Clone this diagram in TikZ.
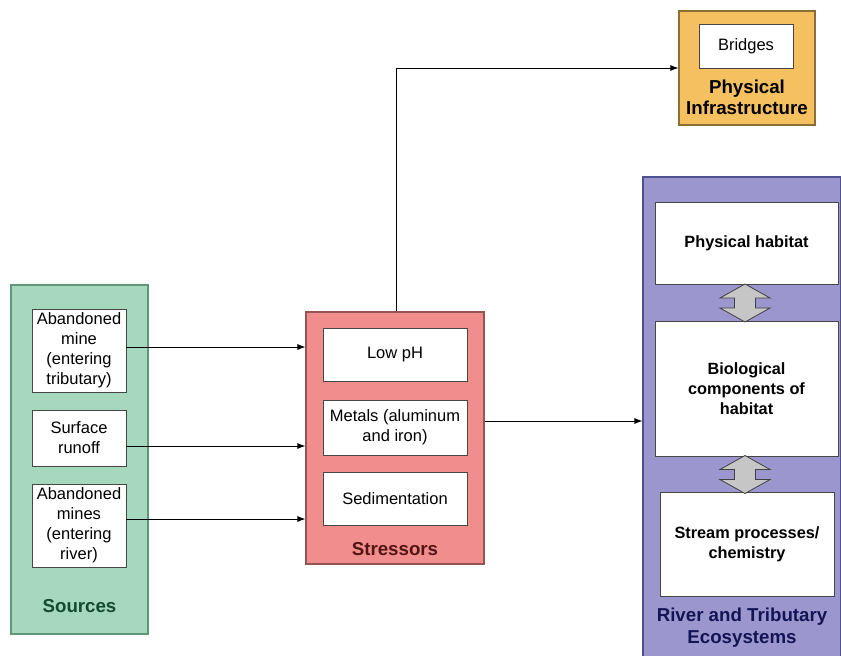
\documentclass[tikz,border=0pt]{standalone}
\usepackage{fontspec}
\setmainfont{Liberation Sans}
\usetikzlibrary{arrows.meta,calc}
\definecolor{srcfill}{RGB}{166,216,190}
\definecolor{srcedge}{RGB}{95,150,120}
\definecolor{srctext}{RGB}{20,75,45}
\definecolor{strfill}{RGB}{240,142,142}
\definecolor{stredge}{RGB}{150,85,85}
\definecolor{strtext}{RGB}{85,20,20}
\definecolor{infill}{RGB}{245,192,95}
\definecolor{inedge}{RGB}{140,110,55}
\definecolor{rivfill}{RGB}{155,151,206}
\definecolor{rivedge}{RGB}{80,80,140}
\definecolor{rivtext}{RGB}{20,20,85}
\definecolor{innedge}{RGB}{70,70,70}
\begin{document}
\begin{tikzpicture}[x=1pt,y=-1pt,
  outer/.style={draw,line width=1.2pt,inner sep=0pt},
  inbox/.style={draw=innedge,fill=white,line width=0.9pt,inner sep=0pt,align=center,
    font=\fontsize{16.5}{20}\selectfont},
  inboxb/.style={inbox,font=\fontsize{16.3}{20}\selectfont\bfseries},
  lbl/.style={align=center,font=\fontsize{18.7}{21.5}\selectfont\bfseries,inner sep=0pt},
  arr/.style={line width=0.8pt,-{Latex[length=8pt,width=6pt]}},
  dblarrow/.pic={\draw[fill=gray!45,draw=gray!50!black,line width=0.8pt]
    (0,-19) -- (25,-5) -- (10.5,-5) -- (10.5,5) -- (25,5) -- (0,19)
    -- (-25,5) -- (-10.5,5) -- (-10.5,-5) -- (-25,-5) -- cycle;}]
\useasboundingbox (0,0) rectangle (841,656);
\clip (0,0) rectangle (841,656);
\fill[white] (0,0) rectangle (841,656);

% Sources
\node[outer,draw=srcedge,fill=srcfill,minimum width=137pt,minimum height=349pt] (sources) at (79.5,459.5) {};
\node[inbox,minimum width=94pt,minimum height=83pt] (src1) at (79,350.5) {Abandoned\\mine\\(entering\\tributary)};
\node[inbox,minimum width=94pt,minimum height=56pt] (src2) at (79,438) {Surface\\runoff};
\node[inbox,minimum width=94pt,minimum height=83pt] (src3) at (79,525.5) {Abandoned\\mines\\(entering\\river)};
\node[lbl,text=srctext] (srclbl) at (79.5,606) {Sources};

% Stressors
\node[outer,draw=stredge,fill=strfill,minimum width=178pt,minimum height=252pt] (stress) at (395,438) {};
\node[inbox,minimum width=144pt,minimum height=53pt] (lowph) at (395,354.5) {Low pH};
\node[inbox,minimum width=144pt,minimum height=55pt] (metals) at (395,427.5) {Metals (aluminum\\and iron)};
\node[inbox,minimum width=144pt,minimum height=53pt] (sed) at (395,498.5) {Sedimentation};
\node[lbl,text=strtext] (strlbl) at (395,549) {Stressors};

% Physical infrastructure
\node[outer,draw=inedge,fill=infill,minimum width=136pt,minimum height=114pt] (infra) at (747,68) {};
\node[inbox,minimum width=94pt,minimum height=44pt] (bridges) at (746,46) {Bridges};
\node[lbl,text=black] (inlbl) at (747,97.5) {Physical\\Infrastructure};

% River and tributary ecosystems
\node[outer,draw=rivedge,fill=rivfill,minimum width=198pt,minimum height=490pt] (river) at (742,422) {};
\node[inboxb,minimum width=183pt,minimum height=82pt] (phys) at (746.5,243) {Physical habitat};
\node[inboxb,minimum width=183pt,minimum height=135pt] (bio) at (746.5,388.5) {Biological\\components of\\habitat};
\node[inboxb,minimum width=174pt,minimum height=104pt] (streamp) at (747,544) {Stream processes/\\chemistry};
\node[lbl,text=rivtext] (rivlbl) at (742,627.5) {River and Tributary\\Ecosystems};
\pic at (745,303) {dblarrow};
\pic at (745,474.5) {dblarrow};

% Connectors
\draw[arr] ($(src1.east)+(0,-3.5)$) -- ($(src1.east -| stress.west)+(0,-3.5)$);
\draw[arr] ($(src2.east)+(0,8)$) -- ($(src2.east -| stress.west)+(0,8)$);
\draw[arr] ($(src3.east)+(0,-6.5)$) -- ($(src3.east -| stress.west)+(0,-6.5)$);
\draw[arr] ($(stress.east)+(0,-17)$) -- ($(stress.east -| river.west)+(0,-17)$);
\draw[arr] ($(stress.north)+(1,0)$) |- (infra.west);
\end{tikzpicture}
\end{document}
